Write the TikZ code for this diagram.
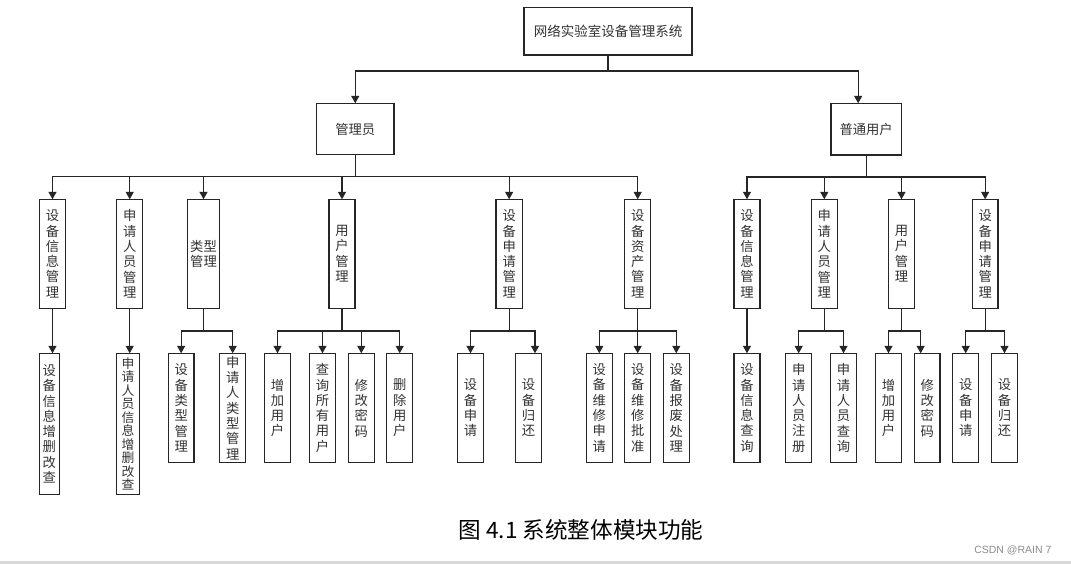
\documentclass[tikz,border=0pt]{standalone}
\usepackage{fontspec}
\setmainfont{Noto Sans CJK SC}
\newfontfamily\latinfont{Liberation Sans}
\usetikzlibrary{arrows.meta}
\begin{document}
\begin{tikzpicture}[x=1pt,y=-1pt,
  box/.style={draw=black!85, line width=1.3pt, inner sep=0pt, outer sep=0pt,
    anchor=north west, text=black!80, align=center,
    font=\fontsize{13.3}{15.3}\selectfont},
  arr/.style={-{Triangle[length=7.5pt,width=8pt]}, line width=1.3pt, draw=black!85},
  lvtwo/.style={box, minimum height=109pt},
  leaf/.style={box, minimum height=109.4pt}]
\useasboundingbox (0,0) rectangle (1071,564);
\fill[white] (0,0) rectangle (1071,564);
% top levels
\node[box, minimum width=168pt, minimum height=47.7pt] (root) at (524,7.3)
  {\fontsize{13.5}{16}\selectfont 网络实验室设备管理系统};
\node[box, minimum width=77.5pt, minimum height=51.4pt] (admin) at (316.5,103.3) {管理员};
\node[box, minimum width=70.3pt, minimum height=51.7pt] (user) at (831,103.3) {普通用户};
% admin children
\node[lvtwo, minimum width=26.4pt] (a1) at (39.3,199.3) {设\\备\\信\\息\\管\\理};
\node[lvtwo, minimum width=26pt] (a2) at (116.7,199.3) {申\\请\\人\\员\\管\\理};
\node[lvtwo, minimum width=32.4pt] (a3) at (187.3,199.3) {类型\\管理};
\node[lvtwo, minimum width=26pt] (a4) at (329,199.3) {用\\户\\管\\理};
\node[lvtwo, minimum width=26.3pt] (a5) at (496,199.3) {设\\备\\申\\请\\管\\理};
\node[lvtwo, minimum width=26pt] (a6) at (624.7,199.3) {设\\备\\资\\产\\管\\理};
% user children
\node[lvtwo, minimum width=26pt] (u1) at (734,199.3) {设\\备\\信\\息\\管\\理};
\node[lvtwo, minimum width=26pt] (u2) at (811.3,199.3) {申\\请\\人\\员\\管\\理};
\node[lvtwo, minimum width=25.6pt] (u3) at (888.7,199.3) {用\\户\\管\\理};
\node[lvtwo, minimum width=25.7pt] (u4) at (972.3,199.3) {设\\备\\申\\请\\管\\理};
% admin leaves
\node[box, minimum width=20pt, minimum height=141pt] (a1l) at (39.3,353.3) {设\\备\\信\\息\\增\\删\\改\\查};
\node[box, minimum width=22.6pt, minimum height=141pt, font=\fontsize{12.8}{13.5}\selectfont] (a2l) at (116.7,353.3) {申\\请\\人\\员\\信\\息\\增\\删\\改\\查};
\node[leaf, minimum width=25.7pt] (a3l1) at (168.3,353.3) {设\\备\\类\\型\\管\\理};
\node[leaf, minimum width=26pt] (a3l2) at (219.7,353.3) {申\\请\\人\\类\\型\\管\\理};
\node[leaf, minimum width=25.6pt] (a4l1) at (264.7,353.3) {增\\加\\用\\户};
\node[leaf, minimum width=25.6pt] (a4l2) at (309.7,353.3) {查\\询\\所\\有\\用\\户};
\node[leaf, minimum width=26pt] (a4l3) at (348.3,353.3) {修\\改\\密\\码};
\node[leaf, minimum width=26pt] (a4l4) at (386.7,353.3) {删\\除\\用\\户};
\node[leaf, minimum width=26.4pt] (a5l1) at (457.3,353.3) {设\\备\\申\\请};
\node[leaf, minimum width=25.6pt] (a5l2) at (515.7,353.3) {设\\备\\归\\还};
\node[leaf, minimum width=26pt] (a6l1) at (586.3,353.3) {设\\备\\维\\修\\申\\请};
\node[leaf, minimum width=26pt] (a6l2) at (624.7,353.3) {设\\备\\维\\修\\批\\准};
\node[leaf, minimum width=26pt] (a6l3) at (663.3,353.3) {设\\备\\报\\废\\处\\理};
% user leaves
\node[leaf, minimum width=26pt] (u1l) at (734,353.3) {设\\备\\信\\息\\查\\询};
\node[leaf, minimum width=26pt] (u2l1) at (785.7,353.3) {申\\请\\人\\员\\注\\册};
\node[leaf, minimum width=25.6pt] (u2l2) at (830.7,353.3) {申\\请\\人\\员\\查\\询};
\node[leaf, minimum width=25.6pt] (u3l1) at (875.7,353.3) {增\\加\\用\\户};
\node[leaf, minimum width=25.7pt] (u3l2) at (914.3,353.3) {修\\改\\密\\码};
\node[leaf, minimum width=26pt] (u4l1) at (952.7,353.3) {设\\备\\申\\请};
\node[leaf, minimum width=25.6pt] (u4l2) at (991.7,353.3) {设\\备\\归\\还};
% connectors: root
\draw[arr] (root.south) -- ++(0,16) -| (admin.north);
\draw[arr] (root.south) -- ++(0,16) -| ([xshift=-8pt]user.north);
% admin bus
\foreach \c in {a1,a2,a3,a4,a5,a6}
  \draw[arr] (admin.south) -- ++(0,22) -| (\c.north);
\foreach \c in {u1,u2,u3,u4}
  \draw[arr] (user.south) -- ++(0,22) -| (\c.north);
% second level
\draw[arr] (a1.south) -- (a1.south |- a1l.north);
\draw[arr] (a2.south) -- (a2.south |- a2l.north);
\draw[arr] (u1.south) -- (u1.south |- u1l.north);
\foreach \p/\l in {a3/a3l1,a3/a3l2,a4/a4l1,a4/a4l2,a4/a4l3,a4/a4l4,a5/a5l1,a6/a6l1,a6/a6l2,a6/a6l3,u2/u2l1,u2/u2l2,u3/u3l1,u4/u4l1,u4/u4l2}
  \draw[arr] (\p.south) -- ++(0,22.7) -| (\l.north);
\draw[arr] (a5.south) -- ++(0,22.7) -| ([xshift=6.5pt]a5l2.north);
\draw[arr] (u3.south) -- ++(0,22.7) -| ([xshift=-6.5pt]u3l2.north);
% caption
\node[font=\fontsize{22.6}{26}\selectfont, text=black] (cap) at (581,530) {图 4.1 系统整体模块功能};
\node[font=\latinfont\fontsize{10.5}{12}\selectfont, text=black!45, anchor=east] (credit) at (1055,550.5) {CSDN @RAIN 7};
\fill[black!15] (0,561) rectangle (1071,564);
\end{tikzpicture}
\end{document}
